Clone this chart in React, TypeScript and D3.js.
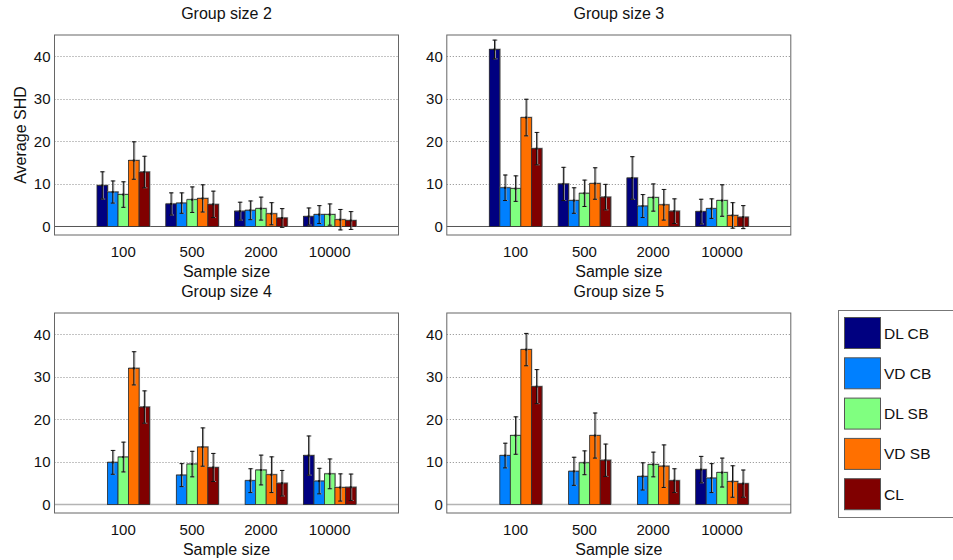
import React from "react";
import * as d3 from "d3";

const sampleSizes = ["100", "500", "2000", "10000"];
const methods = ["DL CB", "VD CB", "DL SB", "VD SB", "CL"];
const methodColors = ["#000080", "#0080ff", "#80ff80", "#ff7000", "#800000"];
const panelTitles = ["Group size 2", "Group size 3", "Group size 4", "Group size 5"];
const yTicks = [0, 10, 20, 30, 40];

// values[method][sampleSize]; null = not shown
const g2Mean = [
  [9.65, 5.3, 3.6, 2.35],
  [8.1, 5.5, 3.8, 2.8],
  [7.5, 6.3, 4.2, 2.8],
  [15.5, 6.6, 3.0, 1.6],
  [12.8, 5.2, 2.0, 1.4],
];
const g2Err = [
  [3.2, 2.6, 2.1, 2.0],
  [2.6, 2.4, 2.2, 2.1],
  [3.0, 3.0, 2.7, 2.5],
  [4.4, 3.2, 2.6, 2.4],
  [3.7, 3.1, 2.2, 2.1],
];
const g3Mean = [
  [41.6, 10.0, 11.4, 3.5],
  [9.1, 6.1, 4.8, 4.2],
  [8.9, 7.8, 6.8, 6.1],
  [25.6, 10.1, 5.1, 2.6],
  [18.3, 6.9, 3.6, 2.2],
];
const g3Err = [
  [2.2, 3.9, 5.0, 2.9],
  [3.0, 3.0, 2.7, 2.3],
  [3.0, 3.1, 3.2, 3.7],
  [4.3, 3.7, 3.6, 3.0],
  [3.8, 3.0, 2.9, 2.7],
];
const g4Mean = [
  [null, null, null, 11.5],
  [9.9, 6.9, 5.6, 5.5],
  [11.15, 9.5, 8.1, 7.2],
  [32.0, 13.5, 7.0, 4.0],
  [22.9, 8.7, 5.0, 4.05],
];
const g4Err = [
  [null, null, null, 4.6],
  [2.8, 2.7, 2.8, 3.0],
  [3.5, 3.0, 3.5, 3.5],
  [3.9, 4.5, 4.2, 3.2],
  [3.8, 3.3, 3.0, 3.1],
];
const g5Mean = [
  [null, null, null, 8.2],
  [11.5, 7.8, 6.6, 6.2],
  [16.2, 9.8, 9.4, 7.5],
  [36.4, 16.2, 9.0, 5.4],
  [27.7, 10.4, 5.6, 4.9],
];
const g5Err = [
  [null, null, null, 3.1],
  [2.9, 3.3, 3.2, 3.4],
  [4.4, 2.8, 2.9, 3.4],
  [3.8, 5.3, 5.0, 3.7],
  [4.0, 3.8, 2.8, 3.2],
];

const panelMeans = [g2Mean, g3Mean, g4Mean, g5Mean];
const panelErrs = [g2Err, g3Err, g4Err, g5Err];

const FONT = "'Liberation Sans', Arial, Helvetica, sans-serif";
const W = 953;
const H = 560;
const panelLefts = [54.5, 446.8];
const panelTops = [35, 313];
const PW = 344;
const PH = 200;

function Panel({ idx }: { idx: number }) {
  const left = panelLefts[idx % 2];
  const top = panelTops[Math.floor(idx / 2)];
  const x = d3.scaleLinear().domain([0, 5]).range([left, left + PW]);
  const y = d3.scaleLinear().domain([-2, 45]).range([top + PH, top]);
  const means = panelMeans[idx];
  const errs = panelErrs[idx];
  const groupW = 0.765;
  const barW = groupW / methods.length;
  const bottomRow = idx >= 2;
  const cx = (left + left + PW) / 2;

  const bars: any[] = [];
  methods.forEach((m, mi) => {
    sampleSizes.forEach((s, si) => {
      const v = means[mi][si];
      if (v === null || v === undefined) return;
      const e = errs[mi][si] as number;
      const x0 = x(si + 1 - groupW / 2 + mi * barW);
      const x1 = x(si + 1 - groupW / 2 + (mi + 1) * barW);
      const xc = (x0 + x1) / 2;
      bars.push(
        <g key={`${mi}-${si}`}>
          <rect x={x0 + 0.5} y={y(v) - 0.5} width={x1 - x0} height={y(0) - y(v)} fill="none" stroke="#aaa" strokeWidth={1} />
          <rect x={x0} y={y(v)} width={x1 - x0} height={y(0) - y(v)} fill={methodColors[mi]} stroke="#2a2a2a" strokeWidth={0.8} />
        </g>
      );
      bars.push(
        <g key={`e-${mi}-${si}`}>
          <line x1={xc + 1} x2={xc + 1} y1={y(v + e)} y2={y(v - e)} stroke="#999" strokeWidth={1} />
          <line x1={xc - 2 + 1} x2={xc + 2 + 1} y1={y(v + e)} y2={y(v + e)} stroke="#999" strokeWidth={1} />
          <line x1={xc - 2 + 1} x2={xc + 2 + 1} y1={y(v - e)} y2={y(v - e)} stroke="#999" strokeWidth={1} />
          <line x1={xc} x2={xc} y1={y(v + e)} y2={y(v - e)} stroke="#111" strokeWidth={1} />
          <line x1={xc - 2} x2={xc + 2} y1={y(v + e)} y2={y(v + e)} stroke="#111" strokeWidth={1} />
          <line x1={xc - 2} x2={xc + 2} y1={y(v - e)} y2={y(v - e)} stroke="#111" strokeWidth={1} />
          <rect x={xc - 1} y={y(v) - 1} width={2} height={2} fill="#111" />
        </g>
      );
    });
  });

  return (
    <g>
      <rect x={left} y={top} width={PW} height={PH} fill="#fff" />
      {yTicks.filter((t) => t > 0).map((t) => (
        <line key={t} x1={left} x2={left + PW} y1={Math.round(y(t)) + 0.5} y2={Math.round(y(t)) + 0.5} stroke="#888" strokeDasharray="1,2" strokeWidth={1} />
      ))}
      <line x1={left} x2={left + PW} y1={y(0)} y2={y(0)} stroke={bottomRow ? "#b4b4b4" : "#555"} strokeWidth={bottomRow ? 1.6 : 1} />
      {bars}
      <rect x={left} y={top} width={PW} height={PH} fill="none" stroke="#666" strokeWidth={1} />
      {yTicks.map((t) => (
        <text key={t} x={left - 4} y={y(t)} dy="0.36em" textAnchor="end" fontSize={15} fontFamily={FONT} fill="#111">
          {t}
        </text>
      ))}
      {sampleSizes.map((s, si) => (
        <text key={s} x={x(si + 1)} y={top + PH + 22} textAnchor="middle" fontSize={15} fontFamily={FONT} fill="#111">
          {s}
        </text>
      ))}
      <text x={cx} y={top + PH + 42} textAnchor="middle" fontSize={16} fontFamily={FONT} fill="#111">
        Sample size
      </text>
      <text x={cx} y={top - 16} textAnchor="middle" fontSize={16} fontFamily={FONT} fill="#111">
        {panelTitles[idx]}
      </text>
      {idx === 0 && (
        <text transform={`translate(${left - 34},${top + PH / 2}) rotate(-90)`} textAnchor="middle" dy="0.36em" fontSize={16} fontFamily={FONT} fill="#111">
          Average SHD
        </text>
      )}
    </g>
  );
}

function Legend() {
  const lx = 838;
  const ly = 310;
  const step = d3.scaleLinear().domain([0, 1]).range([317, 357.3]);
  return (
    <g>
      <rect x={lx + 0.5} y={ly + 0.5} width={120} height={207} fill="#fff" stroke="#777" strokeWidth={1} />
      {methods.map((m, i) => (
        <g key={m}>
          <rect x={844.5} y={step(i) + 0.5} width={36} height={31} fill={methodColors[i]} stroke="#555" strokeWidth={1} />
          <text x={884} y={step(i) + 16} dy="0.36em" fontSize={15.5} fontFamily={FONT} fill="#111">
            {m}
          </text>
        </g>
      ))}
    </g>
  );
}

export default function App() {
  return (
    <div style={{ position: "fixed", left: 0, top: 0 }}>
      <svg width={W} height={H} style={{ display: "block", background: "#fff" }}>
        {[0, 1, 2, 3].map((i) => (
          <Panel key={i} idx={i} />
        ))}
        <Legend />
      </svg>
    </div>
  );
}
